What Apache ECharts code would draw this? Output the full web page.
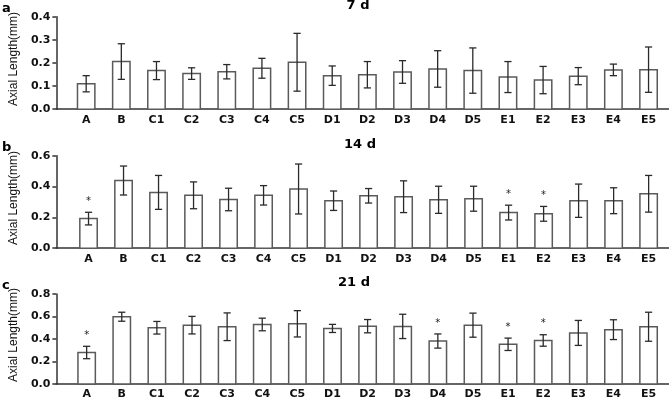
<!DOCTYPE html>
<html>
<head>
<meta charset="utf-8">
<script src="https://cdn.jsdelivr.net/npm/echarts@6/dist/echarts.min.js"></script>
<style>
  html, body { margin: 0; padding: 0; background: #fff; }
  #chart { width: 669px; height: 400px; }
</style>
</head>
<body>
<div id="chart"></div>
<script>
const categories = ['A', 'B', 'C1', 'C2', 'C3', 'C4', 'C5', 'D1', 'D2', 'D3', 'D4', 'D5', 'E1', 'E2', 'E3', 'E4', 'E5']

// 7 d
const mean7 = [0.110, 0.206, 0.167, 0.154, 0.162, 0.177, 0.203, 0.145, 0.149, 0.161, 0.174, 0.167, 0.139, 0.126, 0.143, 0.170, 0.171]
const err7 = [0.035, 0.077, 0.039, 0.025, 0.031, 0.043, 0.125, 0.042, 0.057, 0.049, 0.079, 0.098, 0.067, 0.059, 0.037, 0.025, 0.098]
const sig7 = []

// 14 d
const mean14 = [0.192, 0.439, 0.362, 0.343, 0.316, 0.343, 0.384, 0.308, 0.340, 0.334, 0.314, 0.321, 0.231, 0.223, 0.308, 0.308, 0.353]
const err14 = [0.041, 0.094, 0.110, 0.087, 0.073, 0.063, 0.162, 0.063, 0.047, 0.103, 0.088, 0.081, 0.048, 0.048, 0.108, 0.084, 0.119]
const sig14 = ['A', 'E1', 'E2']

// 21 d
const mean21 = [0.280, 0.598, 0.500, 0.523, 0.509, 0.529, 0.535, 0.494, 0.514, 0.512, 0.382, 0.523, 0.353, 0.387, 0.454, 0.483, 0.509]
const err21 = [0.055, 0.040, 0.056, 0.078, 0.123, 0.056, 0.117, 0.036, 0.059, 0.108, 0.063, 0.107, 0.055, 0.051, 0.111, 0.088, 0.129]
const sig21 = ['A', 'D4', 'E1', 'E2']

const panels = [
  { letter: 'a', title: '7 d', mean: mean7, err: err7, sig: sig7, yMax: 0.4, yStep: 0.1, top: 16.7, left: 52, titleX: 358 },
  { letter: 'b', title: '14 d', mean: mean14, err: err14, sig: sig14, yMax: 0.6, yStep: 0.2, top: 155.7, left: 49.5, titleX: 360 },
  { letter: 'c', title: '21 d', mean: mean21, err: err21, sig: sig21, yMax: 0.8, yStep: 0.2, top: 294, left: 51.5, titleX: 354 }
]

const gridHeight = 92.5
const catStep = 35.4   // px between category centres
const firstX = 82      // px centre of first category
const rightEdge = 669

const chart = echarts.init(document.getElementById('chart'), null, { renderer: 'canvas' })

const grids = []
const xAxes = []
const yAxes = []
const series = []
const graphics = []

panels.forEach((p, k) => {
  grids.push({ left: p.left, right: 0, top: p.top, height: gridHeight })

  xAxes.push({
    type: 'value',
    gridIndex: k,
    min: (p.left - firstX) / catStep,
    max: (rightEdge - firstX) / catStep,
    splitLine: { show: false },
    axisLine: { onZero: false, lineStyle: { color: '#333', width: 1.5 } },
    axisTick: { show: false },
    axisLabel: {
      customValues: categories.map((c, i) => i),
      formatter: v => categories[v],
      color: '#111',
      fontFamily: 'DejaVu Sans',
      fontWeight: 'bold',
      fontSize: 11,
      margin: 5
    }
  })

  yAxes.push({
    type: 'value',
    gridIndex: k,
    min: 0,
    max: p.yMax,
    interval: p.yStep,
    name: 'Axial Length(mm)',
    nameLocation: 'middle',
    nameGap: 33,
    nameTextStyle: { fontFamily: 'Liberation Sans', fontSize: 12, color: '#111', padding: [0, 0, 0, 8] },
    splitLine: { show: false },
    axisLine: { show: true, onZero: false, lineStyle: { color: '#333', width: 1.5 } },
    axisTick: { show: true, length: 4, lineStyle: { color: '#333', width: 1.5 } },
    axisLabel: {
      formatter: v => v.toFixed(1),
      color: '#111',
      fontFamily: 'DejaVu Sans',
      fontWeight: 'bold',
      fontSize: 11,
      margin: 6
    }
  })

  const rows = categories.map((c, i) => [i, p.mean[i], p.err[i], p.sig.includes(c) ? 1 : 0])

  series.push({
    type: 'custom',
    xAxisIndex: k,
    yAxisIndex: k,
    data: rows,
    renderItem: (params, api) => {
      const i = api.value(0)
      const m = api.value(1)
      const e = api.value(2)
      const base = api.coord([i, 0])
      const topPt = api.coord([i, m])
      const hi = api.coord([i, m + e])
      const lo = api.coord([i, m - e])
      const bw = 17.4
      const cap = 3.6
      const children = [
        {
          type: 'rect',
          shape: { x: base[0] - bw / 2, y: topPt[1], width: bw, height: base[1] - topPt[1] },
          style: { fill: '#fff', stroke: '#5a5a5a', lineWidth: 1.5 }
        },
        {
          type: 'line',
          shape: { x1: hi[0], y1: hi[1], x2: lo[0], y2: lo[1] },
          style: { stroke: '#2a2a2a', lineWidth: 1.3 }
        },
        {
          type: 'line',
          shape: { x1: hi[0] - cap, y1: hi[1], x2: hi[0] + cap, y2: hi[1] },
          style: { stroke: '#2a2a2a', lineWidth: 1.3 }
        },
        {
          type: 'line',
          shape: { x1: lo[0] - cap, y1: lo[1], x2: lo[0] + cap, y2: lo[1] },
          style: { stroke: '#2a2a2a', lineWidth: 1.3 }
        }
      ]
      if (api.value(3)) {
        children.push({
          type: 'text',
          style: {
            text: '*',
            x: hi[0],
            y: hi[1] - 11,
            fill: '#222',
            font: '10px "DejaVu Sans"',
            textAlign: 'center',
            textVerticalAlign: 'middle'
          }
        })
      }
      return { type: 'group', children }
    }
  })

  graphics.push({
    type: 'text',
    left: 2,
    top: p.top - 15,
    style: { text: p.letter, font: 'bold 13px "DejaVu Sans"', fill: '#000' }
  })
  graphics.push({
    type: 'text',
    x: p.titleX,
    y: p.top - 11,
    style: { text: p.title, font: 'bold 13px "DejaVu Sans"', fill: '#000', textAlign: 'center', textVerticalAlign: 'middle' }
  })
})

chart.setOption({
  animation: false,
  backgroundColor: '#fff',
  grid: grids,
  xAxis: xAxes,
  yAxis: yAxes,
  series: series,
  graphic: graphics
})
</script>
</body>
</html>
